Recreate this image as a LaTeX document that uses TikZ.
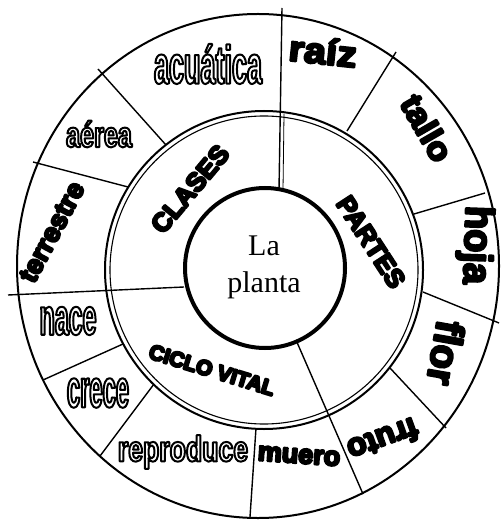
\documentclass[tikz,border=0pt]{standalone}
\usepackage{fontspec}
\setmainfont{Liberation Serif}
\setsansfont{Liberation Sans}

% white letters with a black rim (one text, filled and stroked)
\newcommand{\hollowtext}[2]{{\addfontfeatures{FakeStretch=#1}%
    \special{pdf:literal 2 Tr 2 w 1 j 0 G 1 g}#2\special{pdf:literal 0 Tr 0 g 0 G}}}
% solid black letters, made heavier by the stroke
\newcommand{\heavytext}[2]{{\addfontfeatures{FakeStretch=#1}%
    \special{pdf:literal 2 Tr 2.3 w 1 j 0 G 0 g}#2\special{pdf:literal 0 Tr 0 g 0 G}}}

\begin{document}
\begin{tikzpicture}[x=1pt, y=-1pt,
    divider/.style={line width=1.4pt},
    hollow/.style={font=\sffamily\bfseries\fontsize{#1}{#1}\selectfont, inner sep=0pt},
    heavy/.style={font=\sffamily\bfseries\fontsize{#1}{#1}\selectfont, inner sep=0pt}]

    \useasboundingbox (0,0) rectangle (500,521);

    % Rings of the wheel
    \draw[line width=2pt] (258,266) ellipse (241 and 252);
    \draw[line width=2pt] (264,270) circle (159);
    \draw[line width=1.1pt] (264,270) circle (154);
    \draw[line width=4pt] (265,268) circle (80);

    % Dividers between the cells
    \foreach \xa/\ya/\xb/\yb in {282/8/279/190, 8/295/184/287, 296/340/363/494,
        347/131/396/52, 414/214/485/193, 423/292/499/323, 390/368/446/428,
        256/428/250/517, 154/384/100/456, 123/344/43/380, 128/187/33/162,
        166/145/98/69} {
        \draw[divider] (\xa,\ya) -- (\xb,\yb);
    }
    \draw[line width=0.8pt] (284,114) -- (283,190);

    % Centre
    \node[font=\fontsize{30}{37}\selectfont, align=center] (planta) at (264,267) {La\\planta};

    % Inner ring
    \node[heavy=26, rotate=50] (clases) at (190,189) {\heavytext{1}{CLASES}};
    \node[heavy=26, rotate=-57] (partes) at (371,242) {\heavytext{1}{PARTES}};
    \node[heavy=21, rotate=-17] (ciclo) at (212,370) {\heavytext{1}{CICLO VITAL}};

    % Outer ring: clases
    \node[hollow=54] (acuatica) at (208,64) {\hollowtext{0.5}{acuática}};
    \node[hollow=36] (aerea) at (99,134) {\hollowtext{0.7}{aérea}};
    \node[heavy=27, rotate=62] (terrestre) at (52,232) {\heavytext{1}{terrestre}};

    % Outer ring: partes
    \node[heavy=36, rotate=-6] (raiz) at (323,51) {\heavytext{1.1}{raíz}};
    \node[heavy=33, rotate=-60] (tallo) at (427,128) {\heavytext{1.05}{tallo}};
    \node[heavy=40, rotate=-92] (hoja) at (475,245) {\heavytext{0.95}{hoja}};
    \node[heavy=40, rotate=-100] (flor) at (446,353) {\heavytext{1}{flor}};
    \node[heavy=32, rotate=-160] (fruto) at (383,440) {\heavytext{1}{fruto}};

    % Outer ring: ciclo vital
    \node[heavy=27, rotate=-4] (muero) at (299,456) {\heavytext{1}{muero}};
    \node[hollow=36] (reproduce) at (183,452) {\hollowtext{0.74}{reproduce}};
    \node[hollow=54] (crece) at (98,393) {\hollowtext{0.44}{crece}};
    \node[hollow=52] (nace) at (68,321) {\hollowtext{0.48}{nace}};

\end{tikzpicture}
\end{document}
